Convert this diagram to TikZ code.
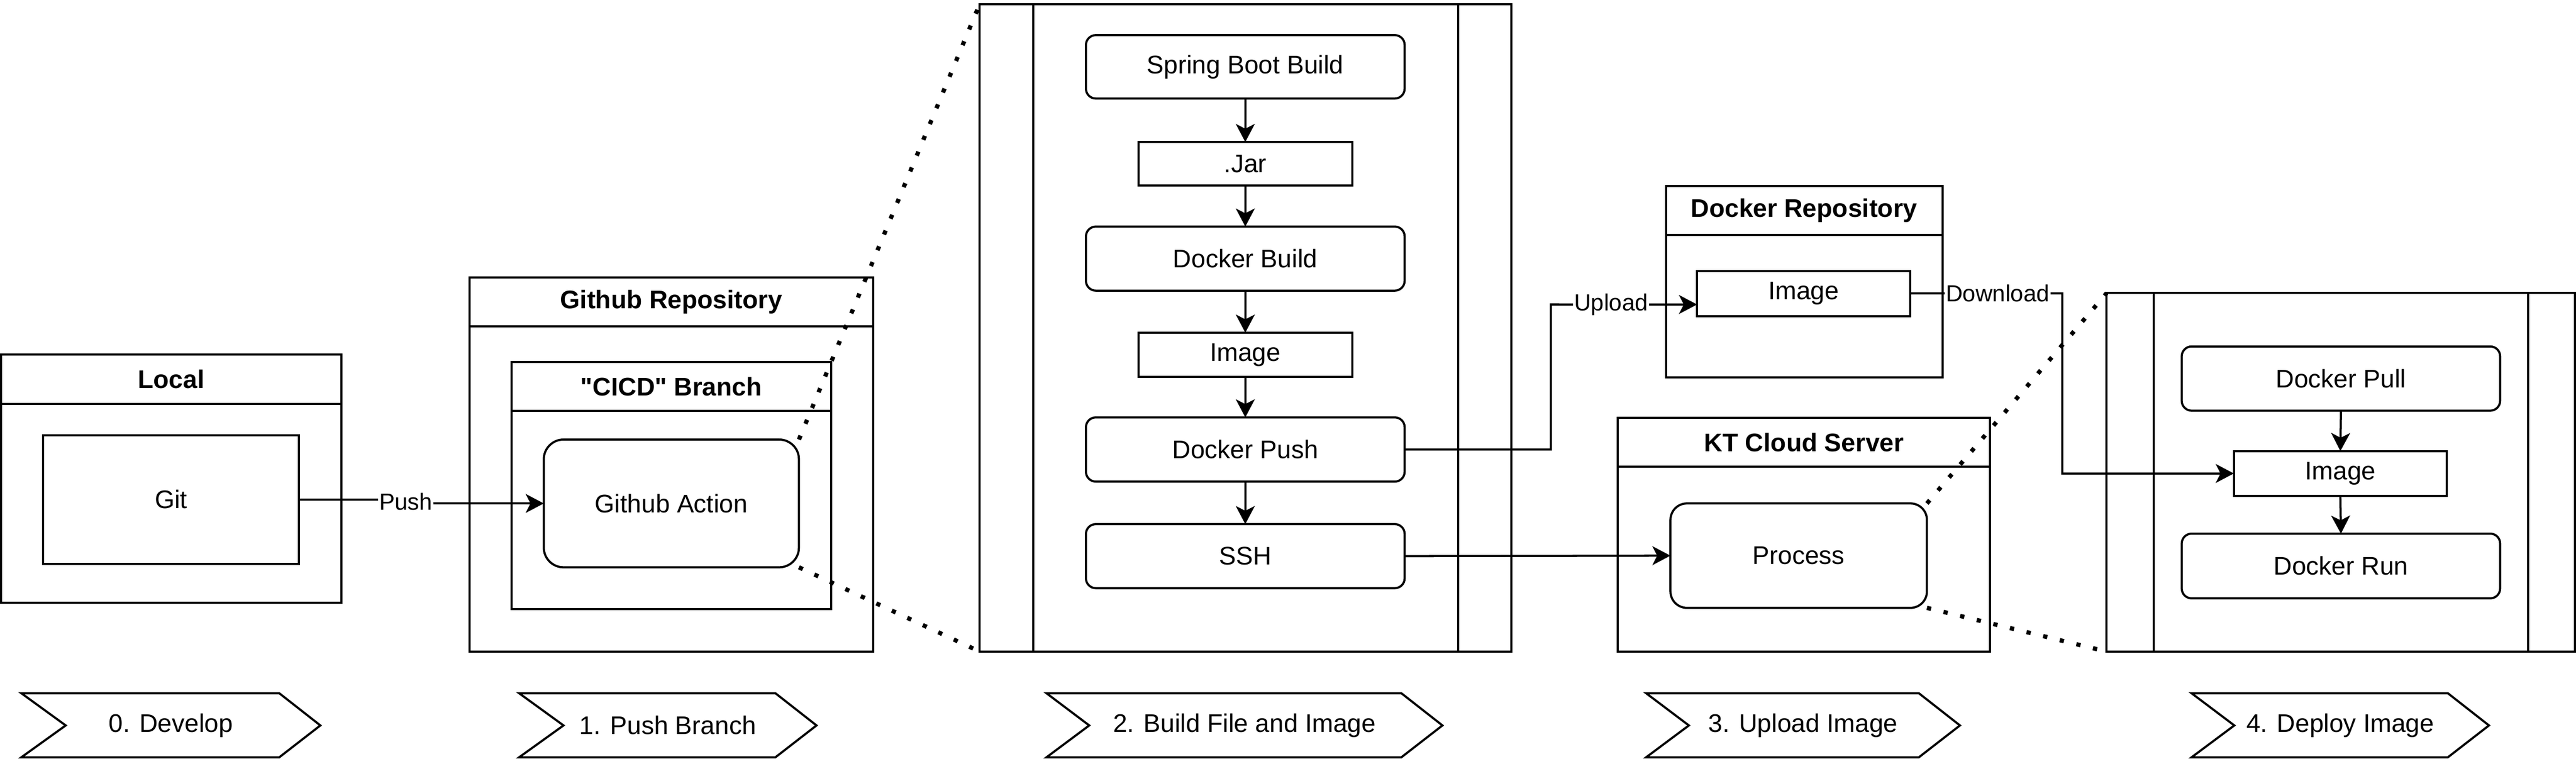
\documentclass[tikz,border=0pt]{standalone}
\usepackage{fontspec}
\setmainfont{Liberation Sans}[Ligatures=TeXOff]
\usetikzlibrary{arrows.meta}
\newcommand\mkbox[7]{\node[#6, minimum width={(#4-#2)*1pt}, minimum height={(#5-#3)*1pt}] (#1) at ({(#2+#4)/2},{(#3+#5)/2}) {#7};}
\begin{document}
\begin{tikzpicture}[x=1pt,y=-1pt,
  every node/.style={inner sep=0pt, outer sep=0pt},
  box/.style={draw, line width=1.3pt, fill=white, font=\fontsize{15.5}{18}\selectfont, align=center},
  rbox/.style={box, rounded corners=#1},
  ttl/.style={font=\fontsize{15.5}{18}\selectfont\bfseries},
  lbl/.style={font=\fontsize{15.5}{18}\selectfont},
  arr/.style={line width=1.3pt, -{Stealth[length=11pt,width=11.5pt,inset=2.9pt]}},
  plain/.style={line width=1.3pt},
  dots/.style={line width=2.6pt, dash pattern=on 2.6pt off 7.8pt},
  elabel/.style={fill=white, inner sep=0.6pt, font=\fontsize{14.2}{16}\selectfont},
  chev/.style={draw, line width=1.3pt, fill=white, line join=miter}
]
\useasboundingbox (0,0) rectangle (1568,462);

% ---- containers ----
\mkbox{local}{0.65}{215.9}{207.8}{367.2}{box}{}
\draw[plain] (0.65,245.9) -- (207.8,245.9);
\node[ttl] (localttl) at (104.2,231) {Local};

\mkbox{ghrepo}{285.8}{169}{531.5}{396.8}{box}{}
\draw[plain] (285.8,198.9) -- (531.5,198.9);
\node[ttl] (ghttl) at (408.6,184) {Github Repository};

\mkbox{cicd}{311.4}{220.4}{505.8}{371}{box}{}
\draw[plain] (311.4,250.1) -- (505.8,250.1);
\node[ttl] (cicdttl) at (408.6,235.3) {"CICD" Branch};

\mkbox{build}{596.3}{2.5}{920}{396.8}{box}{}
\draw[plain] (628.8,2.5) -- (628.8,396.8);
\draw[plain] (887.7,2.5) -- (887.7,396.8);

\mkbox{dockrepo}{1014}{113.2}{1182.3}{229.9}{box}{}
\draw[plain] (1014,143.2) -- (1182.3,143.2);
\node[ttl] (drttl) at (1098.2,128.2) {Docker Repository};

\mkbox{kt}{984.8}{254.5}{1211.4}{396.8}{box}{}
\draw[plain] (984.8,284.1) -- (1211.4,284.1);
\node[ttl] (ktttl) at (1098.1,269.3) {KT Cloud Server};

\mkbox{deploy}{1282.3}{178.5}{1567.2}{396.8}{box}{}
\draw[plain] (1311,178.5) -- (1311,396.8);
\draw[plain] (1539,178.5) -- (1539,396.8);

% ---- inner boxes ----
\mkbox{git}{26.3}{265}{181.9}{343.3}{box}{Git}
\mkbox{ga}{331}{267.7}{486.3}{345.5}{rbox=12pt}{Github Action}

\mkbox{sbb}{661}{21.4}{855}{60}{rbox=6pt}{Spring Boot Build}
\mkbox{jar}{693}{86.5}{823}{113}{box}{.Jar}
\mkbox{dbuild}{661}{138}{855}{177}{rbox=6pt}{Docker Build}
\mkbox{img}{693}{202.6}{823}{229.6}{box}{Image}
\mkbox{dpush}{661}{254.2}{855}{293.3}{rbox=6pt}{Docker Push}
\mkbox{ssh}{661}{319.2}{855}{358.2}{rbox=6pt}{SSH}

\mkbox{drimg}{1033}{165}{1162.7}{192.5}{box}{Image}
\mkbox{proc}{1016.8}{306.6}{1172.9}{370.2}{rbox=10pt}{Process}

\mkbox{dpull}{1328}{211}{1521.8}{250.1}{rbox=6pt}{Docker Pull}
\mkbox{dimg}{1359.7}{274.7}{1489.4}{302}{box}{Image}
\mkbox{drun}{1328}{325}{1521.8}{364.4}{rbox=6pt}{Docker Run}

% ---- connectors ----
\coordinate (pushmid) at (247,305.5);
\draw[arr] (git.east) -| (pushmid) |- (ga.west);
\node[elabel] (pushlbl) at (pushmid) {Push};

\draw[arr] (sbb.south) -- (jar.north);
\draw[arr] (jar.south) -- (dbuild.north);
\draw[arr] (dbuild.south) -- (img.north);
\draw[arr] (img.south) -- (dpush.north);
\draw[arr] (dpush.south) -- (ssh.north);

\coordinate (upA) at (944,185.4);
\draw[arr] (dpush.east) -| (upA) -- ([yshift=-6.7pt]drimg.west);
\node[elabel] (uplbl) at (980.7,185.4) {Upload};

\coordinate (dnA) at (1255.4,178.75);
\draw[arr] (drimg.east) -- (dnA) |- (dimg.west);
\node[elabel] (dnlbl) at (1216,178.75) {Download};

\draw[arr] (ssh.east) -- (proc.west);

\draw[arr] (dpull.south) -- (dimg.north);
\draw[arr] (dimg.south) -- (drun.north);

% ---- dotted zoom lines ----
\draw[dots] (ga.north east) -- (build.north west);
\draw[dots] (ga.south east) -- (build.south west);
\draw[dots] (proc.north east) -- (deploy.north west);
\draw[dots] (proc.south east) -- (deploy.south west);

% ---- step chevrons ----
\draw[chev] (13,422.2) -- (170,422.2) -- (195,441.8) -- (170,461.2) -- (13,461.2) -- (40,441.8) -- cycle;
\node[lbl] (s0) at (104,441.8) {0. Develop};
\draw[chev] (316,422.2) -- (472,422.2) -- (497,441.8) -- (472,461.2) -- (316,461.2) -- (343,441.8) -- cycle;
\node[lbl] (s1) at (406.5,441.8) {1. Push Branch};
\draw[chev] (637,422.2) -- (853,422.2) -- (878,441.8) -- (853,461.2) -- (637,461.2) -- (663,441.8) -- cycle;
\node[lbl] (s2) at (757.5,441.8) {2. Build File and Image};
\draw[chev] (1002,422.2) -- (1168,422.2) -- (1193,441.8) -- (1168,461.2) -- (1002,461.2) -- (1028,441.8) -- cycle;
\node[lbl] (s3) at (1097.5,441.8) {3. Upload Image};
\draw[chev] (1334,422.2) -- (1490,422.2) -- (1515,441.8) -- (1490,461.2) -- (1334,461.2) -- (1360,441.8) -- cycle;
\node[lbl] (s4) at (1424.5,441.8) {4. Deploy Image};
\end{tikzpicture}
\end{document}
